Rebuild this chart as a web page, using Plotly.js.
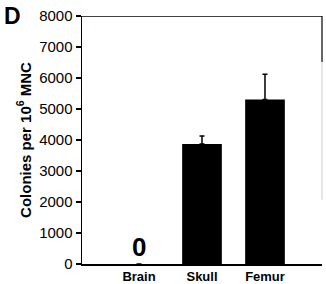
<!DOCTYPE html>
<html><head><meta charset="utf-8">
<script src="https://cdn.plot.ly/plotly-3.0.1.min.js"></script>
<style>html,body{margin:0;padding:0;background:#fff}#c{width:326px;height:284px}</style>
</head><body><div id="c"></div>
<script>
const categories = ["Brain", "Skull", "Femur"];
const colonies = [0, 3870, 5310];
const errors = [0, 260, 810];
const yTicks = [0, 1000, 2000, 3000, 4000, 5000, 6000, 7000, 8000];

const font = "Liberation Sans, Arial, sans-serif";
const trace = {
  type: "bar", x: categories, y: colonies,
  marker: {color: "#000"},
  error_y: {type: "data", array: errors, symmetric: false, arrayminus: [0,0,0], visible: true, color: "#000", thickness: 1.5, width: 2.5},
  hoverinfo: "none"
};
const layout = {
  width: 326, height: 284,
  margin: {l: 82, r: 4, t: 16, b: 20},
  paper_bgcolor: "#fff", plot_bgcolor: "#fff",
  showlegend: false, bargap: 0.37,
  xaxis: {
    type: "category", range: [-0.905, 2.905],
    showline: true, linecolor: "#000", linewidth: 1.5,
    ticks: "", showgrid: false, zeroline: false,
    tickfont: {family: font, size: 13, color: "#000", weight: "bold"},
    ticklabelstandoff: 0
  },
  yaxis: {
    range: [0, 8000], tickvals: yTicks, ticktext: yTicks.map(String),
    showline: true, linecolor: "#000", linewidth: 1.5,
    ticks: "outside", ticklen: 5, tickwidth: 1.2, tickcolor: "#000",
    showgrid: false, zeroline: false,
    tickfont: {family: font, size: 15, color: "#000"},
    title: {text: "Colonies per 10<sup>6</sup> MNC", font: {family: font, size: 15, color: "#000", weight: "bold"}, standoff: 4}
  },
  shapes: [
    {type: "line", xref: "paper", yref: "y", x0: 0, x1: 1, y0: 8000, y1: 8000, line: {color: "#000", width: 1.5}},
    {type: "line", xref: "paper", yref: "y", x0: 1, x1: 1, y0: 8000, y1: 6520, line: {color: "#000", width: 1.2}},
    {type: "line", xref: "paper", yref: "y", x0: 1, x1: 1, y0: 6520, y1: 2080, line: {color: "#ccc", width: 1}}
  ],
  annotations: [
    {text: "<b>D</b>", xref: "paper", yref: "paper", x: -0.335, y: 1.0, xanchor: "left", yanchor: "middle", showarrow: false, font: {family: font, size: 23, color: "#000"}},
    {text: "<b>0</b>", xref: "x", yref: "y", x: "Brain", y: 0, yanchor: "bottom", yshift: 0, showarrow: false, font: {family: font, size: 26, color: "#000"}}
  ]
};
Plotly.newPlot("c", [trace], layout, {staticPlot: true, displayModeBar: false});
</script></body></html>
